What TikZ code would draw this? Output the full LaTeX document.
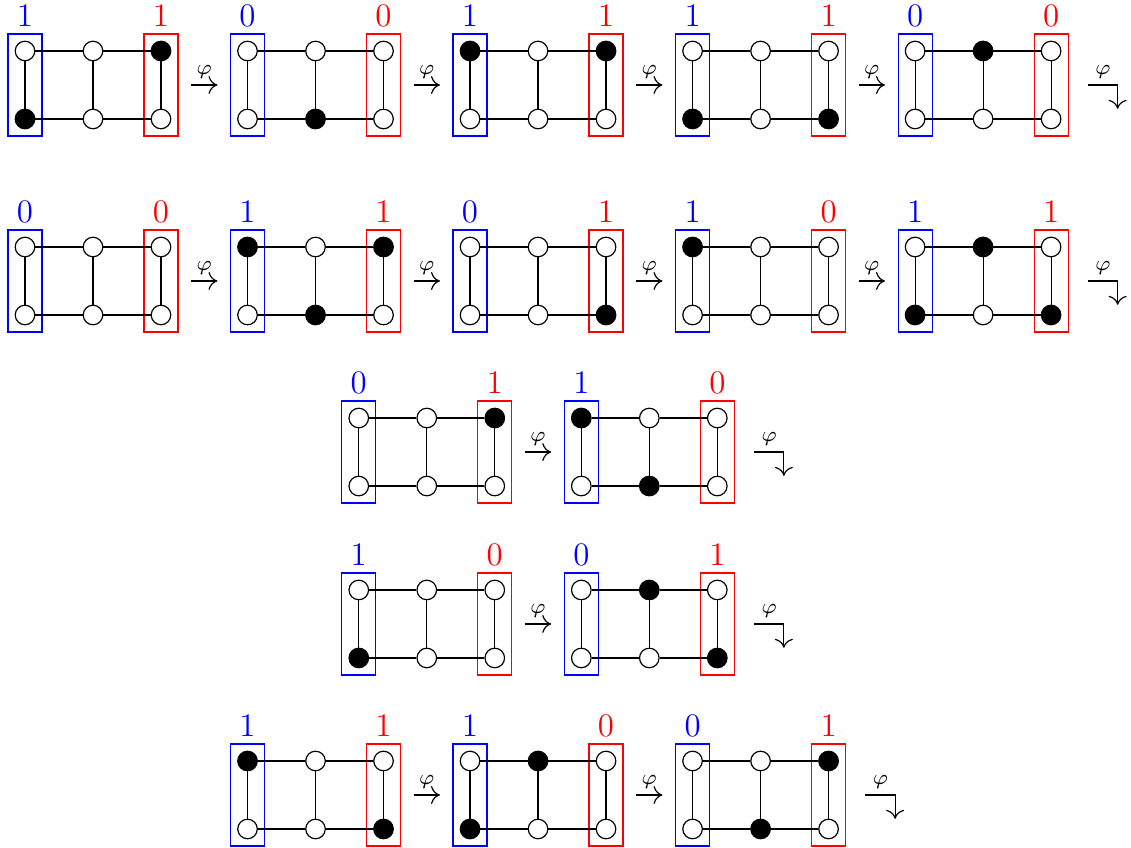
\documentclass[tikz,border=0pt]{standalone}
\usetikzlibrary{arrows.meta}
\begin{document}
\begin{tikzpicture}[
    vertex/.style={circle,draw,line width=.4pt,minimum size=.23cm,inner sep=0pt},
    wht/.style={vertex,fill=white},
    blk/.style={vertex,fill=black},
    colbox/.style={rectangle,draw,line width=.4pt,minimum width=.4cm,minimum height=1.2cm,inner sep=0pt},
    lab/.style={font=\fontsize{11}{13}\selectfont,above,inner sep=2pt},
    phi/.style={font=\scriptsize,above,inner sep=2pt},
    phiarrow/.style={-{Computer Modern Rightarrow[length=3pt,width=6pt]},line width=.4pt,shorten <=.147cm,shorten >=.147cm}]
  \useasboundingbox (0,0) rectangle (13.306,-9.976);
  % gadgets: name / x / top y / blue / red / tl tm tr bl bm br
  \foreach \g/\x/\y/\lb/\lr/\a/\b/\c/\d/\e/\f in {
      1/0.294/0.6/1/1/wht/wht/blk/blk/wht/wht,
      2/2.912/0.6/0/0/wht/wht/wht/wht/blk/wht,
      3/5.530/0.6/1/1/blk/wht/blk/wht/wht/wht,
      4/8.148/0.6/1/1/wht/wht/wht/blk/wht/blk,
      5/10.766/0.6/0/0/wht/blk/wht/wht/wht/wht,
      6/0.294/2.906/0/0/wht/wht/wht/wht/wht/wht,
      7/2.912/2.906/1/1/blk/wht/blk/wht/blk/wht,
      8/5.530/2.906/0/1/wht/wht/wht/wht/wht/blk,
      9/8.148/2.906/1/0/blk/wht/wht/wht/wht/wht,
      10/10.766/2.906/1/1/wht/blk/wht/blk/wht/blk,
      11/4.221/4.918/0/1/wht/wht/blk/wht/wht/wht,
      12/6.839/4.918/1/0/blk/wht/wht/wht/blk/wht,
      13/4.221/6.941/1/0/wht/wht/wht/blk/wht/wht,
      14/6.839/6.941/0/1/wht/blk/wht/wht/wht/blk,
      15/2.912/8.953/1/1/blk/wht/wht/wht/wht/blk,
      16/5.530/8.953/1/0/wht/blk/wht/blk/wht/wht,
      17/8.148/8.953/0/1/wht/wht/blk/wht/blk/wht} {
    \node[colbox,draw=blue] (g\g-l) at (\x,-\y-0.4) {};
    \node[colbox,draw=red] (g\g-r) at (\x+1.6,-\y-0.4) {};
    \node[lab,text=blue] (g\g-lb) at (g\g-l.north) {\lb};
    \node[lab,text=red] (g\g-rb) at (g\g-r.north) {\lr};
    \node[\a] (g\g-tl) at (\x,-\y) {};
    \node[\b] (g\g-tm) at (\x+0.8,-\y) {};
    \node[\c] (g\g-tr) at (\x+1.6,-\y) {};
    \node[\d] (g\g-bl) at (\x,-\y-0.8) {};
    \node[\e] (g\g-bm) at (\x+0.8,-\y-0.8) {};
    \node[\f] (g\g-br) at (\x+1.6,-\y-0.8) {};
    \draw[line width=.4pt] (g\g-tl) -- (g\g-tm) -- (g\g-tr) -- (g\g-br) -- (g\g-bm) -- (g\g-bl) -- (g\g-tl);
    \draw[line width=.4pt] (g\g-tm) -- (g\g-bm);
  }
  % steps
  \foreach \s/\t in {1/2,2/3,3/4,4/5,6/7,7/8,8/9,9/10,11/12,13/14,15/16,16/17}
    \draw[phiarrow] (g\s-r.east) -- (g\t-l.west) node[midway,phi] {$\varphi$};
  % last step of each row
  \foreach \s in {5,10,12,14,17} {
    \coordinate (end\s) at ([shift={(0.576,-0.28)}]g\s-r.east);
    \draw[phiarrow,shorten >=0pt,shorten <=.224cm] (g\s-r.east) -| (end\s) node[pos=.35,phi] {$\varphi$};
  }
\end{tikzpicture}
\end{document}
